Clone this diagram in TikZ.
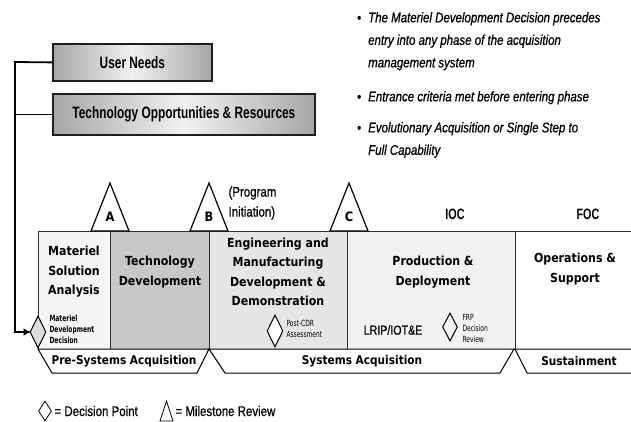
\documentclass[tikz,border=0pt]{standalone}
\usepackage{fontspec}
\setmainfont{Liberation Sans}
\newfontfamily\narrowfont[FakeStretch=0.82,FakeBold=0.8]{Liberation Sans}
\newfontfamily\boxfont[FakeStretch=0.72]{Liberation Sans}
\newfontfamily\phasefont[FakeStretch=0.88]{DejaVu Sans}
\newfontfamily\tinyfont[FakeStretch=0.7]{DejaVu Sans}
\usetikzlibrary{shapes.geometric,arrows.meta}
\definecolor{msafill}{HTML}{F5F5F5}
\definecolor{tdfill}{HTML}{C8C8C8}
\definecolor{emdfill}{HTML}{E6E6E6}
\definecolor{pdfill}{HTML}{F2F2F2}
\definecolor{edge}{HTML}{303030}
\definecolor{boxedge}{HTML}{1E1E1E}
\definecolor{gradedge}{HTML}{A6A6A6}
\definecolor{gradmid}{HTML}{F2F2F2}
\tikzset{
  topbox/.style={draw=boxedge, line width=1.8pt, left color=gradedge, right color=gradedge, middle color=gradmid, inner sep=0pt, anchor=north west, font=\boxfont\bfseries\fontsize{16.5}{18}\selectfont},
  phasebox/.style={draw=edge, line width=1pt, inner sep=0pt, anchor=north west},
  phasetext/.style={font=\phasefont\bfseries\fontsize{12.5}{19.5}\selectfont, align=center},
  smalltext/.style={font=\tinyfont\fontsize{8.5}{11}\selectfont, align=left, anchor=west},
  milestone/.style={draw=black, line width=1.2pt, fill=white, line join=miter},
  dpoint/.style={diamond, draw=black, line width=1pt, inner sep=0pt, minimum width=16pt, minimum height=32pt},
  band/.style={draw=black, line width=1pt, fill=white},
  bandtext/.style={font=\phasefont\bfseries\fontsize{12}{14}\selectfont},
  bullettext/.style={font=\narrowfont\itshape\fontsize{14}{22.5}\selectfont, align=left, anchor=north west, inner sep=0pt},
  bulletdot/.style={font=\narrowfont\fontsize{14}{16}\selectfont, anchor=base west, inner sep=0pt},
  conn/.style={draw=black, line width=1.8pt},
}
\begin{document}
\begin{tikzpicture}[x=1pt,y=-1pt]
\useasboundingbox (0,0) rectangle (631,421);
% top boxes
\node[topbox, minimum width=159pt, minimum height=37pt] (un) at (52,43) {User Needs};
\node[topbox, minimum width=262pt, minimum height=41pt] (to) at (52,93) {Technology Opportunities \& Resources};
% bullets
\node[bullettext] (b1) at (368,12) {The Materiel Development Decision precedes\\entry into any phase of the acquisition\\management system};
\node[bullettext] (b2) at (368,91) {Entrance criteria met before entering phase};
\node[bullettext] (b3) at (368,122) {Evolutionary Acquisition or Single Step to\\Full Capability};
\node[bulletdot] (d1) at (357,22.5) {•};
\node[bulletdot] (d2) at (357,101.5) {•};
\node[bulletdot] (d3) at (357,132.5) {•};
% phases
\node[phasebox, fill=msafill, minimum width=72pt, minimum height=118pt] (msa) at (38,231) {};
\node[phasebox, fill=tdfill, minimum width=99pt, minimum height=118pt] (td) at (110,231) {};
\node[phasebox, fill=emdfill, minimum width=138pt, minimum height=118pt] (emd) at (209,231) {};
\node[phasebox, fill=pdfill, minimum width=168pt, minimum height=118pt] (pd) at (347,231) {};
\node[phasebox, fill=white, minimum width=130pt, minimum height=118pt] (ops) at (515,231) {};
\node[phasetext] (msat) at (74,272) {Materiel\\Solution\\Analysis};
\node[phasetext] (tdt) at (160,272) {Technology\\Development};
\node[phasetext] (emdt) at (278,272) {Engineering and\\Manufacturing\\Development \&\\Demonstration};
\node[phasetext] (pdt) at (433,272) {Production \&\\Deployment};
\node[phasetext] (opst) at (575,269) {Operations \&\\Support};
\node[font=\boxfont\bfseries\fontsize{15}{16}\selectfont] (ioc) at (455,214) {IOC};
\node[font=\boxfont\bfseries\fontsize{15}{16}\selectfont] (foc) at (588,214) {FOC};
\node[font=\narrowfont\fontsize{14}{20}\selectfont, align=left, anchor=west] (pi) at (225,203) {(Program\\Initiation)};
% milestones
\draw[milestone] (91,231) -- (110,183) -- (129,231) -- cycle;
\draw[milestone] (190,231) -- (209,183) -- (228,231) -- cycle;
\draw[milestone] (330,231) -- (349,183) -- (368,231) -- cycle;
\node[phasetext, font=\phasefont\bfseries\fontsize{13}{14}\selectfont] (ma) at (110,217) {A};
\node[phasetext, font=\phasefont\bfseries\fontsize{13}{14}\selectfont] (mb) at (209,217) {B};
\node[phasetext, font=\phasefont\bfseries\fontsize{13}{14}\selectfont] (mc) at (349,217) {C};
% decision points
\node[dpoint, fill=msafill!80!gray] (mdd) at (38,332) {};
\node[smalltext, font=\tinyfont\bfseries\fontsize{8.5}{11}\selectfont] (mddt) at (46,329) {Materiel\\Development\\Decision};
\node[dpoint, fill=white] (pcdr) at (275,331) {};
\node[smalltext] (pcdrt) at (283,329) {Post-CDR\\Assessment};
\node[phasetext, font=\narrowfont\fontsize{13}{14}\selectfont] (lrip) at (393,330) {LRIP/IOT\&E};
\node[dpoint, fill=pdfill, minimum width=15pt, minimum height=28pt] (frp) at (450,327) {};
\node[smalltext] (frpt) at (459,328) {FRP\\Decision\\Review};
% connectors
\coordinate (j1) at (15,62);
\draw[conn] (un.west) -- (j1) |- (mdd.west);
\draw[conn] (to.west) -- (to.west -| j1);
\draw[-{Triangle[length=6pt,width=7pt]}, line width=1.8pt] (22,332) -- (mdd.west);
% bands
\draw[band] (38,349) -- (209,349) -- (197,373) -- (52,373) -- cycle;
\draw[band] (209,349) -- (514,349) -- (500,373) -- (225,373) -- cycle;
\draw[band] (515,349) -- (640,349) -- (640,373) -- (527,373) -- cycle;
\node[bandtext] (psa) at (124,361) {Pre-Systems Acquisition};
\node[bandtext] (sa) at (362,361) {Systems Acquisition};
\node[bandtext] (sus) at (579,361) {Sustainment};
% legend
\node[diamond, draw=black, line width=0.8pt, inner sep=0pt, minimum width=13pt, minimum height=20pt] (ld) at (45,411) {};
\node[font=\narrowfont\fontsize{14}{16}\selectfont, anchor=west] (ldt) at (51,411) {= Decision Point};
\draw[line width=0.8pt] (160,421) -- (166.5,401) -- (173,421) -- cycle;
\node[font=\narrowfont\fontsize{14}{16}\selectfont, anchor=west] (lmt) at (172,411) {= Milestone Review};
\end{tikzpicture}
\end{document}
